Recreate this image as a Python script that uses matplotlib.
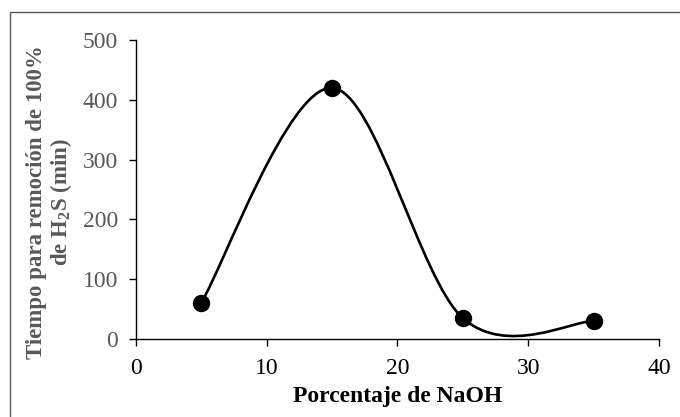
import matplotlib
matplotlib.use("Agg")
import matplotlib.pyplot as plt
from matplotlib.path import Path
from matplotlib.patches import PathPatch, Rectangle

naoh = [5, 15, 25, 35]
tiempo = [61, 420, 35, 30]
xticks = [0, 10, 20, 30, 40]
yticks = [0, 100, 200, 300, 400, 500]

plt.rcParams['font.family'] = ['Liberation Serif', 'DejaVu Serif']
plt.rcParams['mathtext.fontset'] = 'custom'
plt.rcParams['mathtext.rm'] = 'Liberation Serif'
plt.rcParams['mathtext.bf'] = 'Liberation Serif:bold'

fig = plt.figure(figsize=(6.8, 4.17), dpi=100)
ax = fig.add_axes([0.2, 0.187, 0.769, 0.717])

# excel-like smooth line (bezier through the points)
n = len(naoh)
verts = [(naoh[0], tiempo[0])]
codes = [Path.MOVETO]
for i in range(n - 1):
    p0 = (naoh[max(i - 1, 0)], tiempo[max(i - 1, 0)])
    p1 = (naoh[i], tiempo[i])
    p2 = (naoh[i + 1], tiempo[i + 1])
    p3 = (naoh[min(i + 2, n - 1)], tiempo[min(i + 2, n - 1)])
    c1 = (p1[0] + (p2[0] - p0[0]) / 6, p1[1] + (p2[1] - p0[1]) / 6)
    c2 = (p2[0] - (p3[0] - p1[0]) / 6, p2[1] - (p3[1] - p1[1]) / 6)
    verts += [c1, c2, p2]
    codes += [Path.CURVE4] * 3
ax.add_patch(PathPatch(Path(verts, codes), facecolor='none', edgecolor='black', lw=1.9, zorder=2))
ax.plot(naoh, tiempo, 'o', color='black', markersize=11.5, zorder=3)

ax.set_xlim(0, 40)
ax.set_ylim(0, 500)
ax.set_xticks(xticks)
ax.set_yticks(yticks)
for s in ['top', 'right']:
    ax.spines[s].set_visible(False)
for s in ['left', 'bottom']:
    ax.spines[s].set_color('black')
    ax.spines[s].set_linewidth(1.0)
ax.tick_params(axis='both', direction='out', length=5, width=1.0, labelsize=17)
ax.tick_params(axis='y', labelcolor='#595959', pad=8)
ax.tick_params(axis='x', labelcolor='black', pad=9)

fig.text(0.5846, 0.050, 'Porcentaje de NaOH', ha='center', va='center',
         fontsize=17, fontweight='bold')
fig.text(0.074, 0.515, 'Tiempo para remoción de 100%\nde H$_{\\mathbf{2}}$S (min)',
         ha='center', va='center', rotation=90, fontsize=16.5, fontweight='bold',
         color='#595959', linespacing=1.05)

fig.add_artist(Rectangle((0.0147, -0.05), 1.2, 0.971 + 0.05, transform=fig.transFigure,
                         fill=False, edgecolor='#595959', lw=1.0))

fig.savefig('out.png', dpi=100)
